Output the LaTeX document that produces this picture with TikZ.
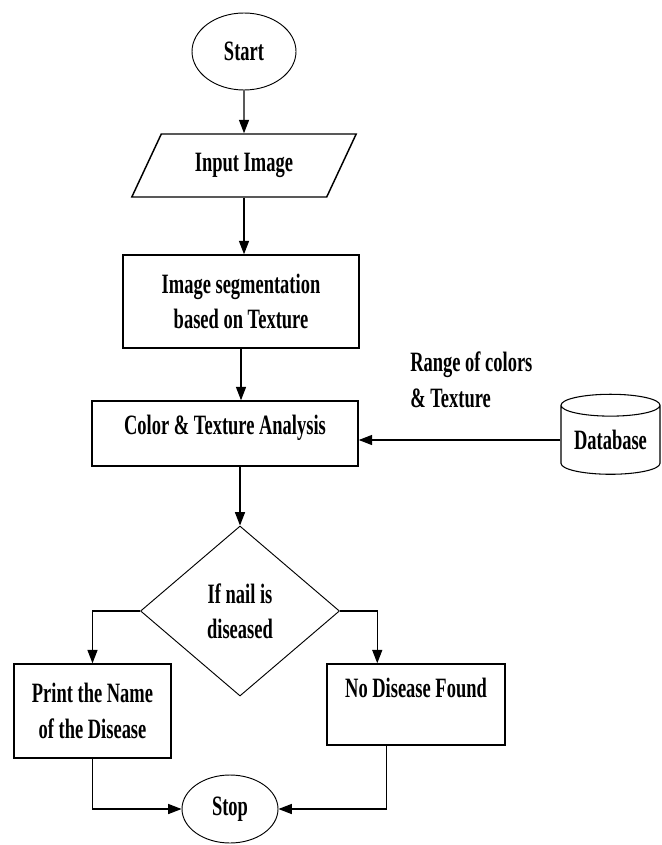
\documentclass[tikz,border=0pt]{standalone}
\usepackage{fontspec}
\setmainfont{Liberation Serif}[FakeStretch=0.66]
\usepackage{tikz}
\usetikzlibrary{shapes.geometric, arrows.meta}
\tikzset{
	base/.style = {
		draw,
		black,
		inner sep=0pt,
		align=center,
		font=\fontsize{21}{26.5}\selectfont\bfseries
	},
	terminal/.style = {
		base,
		ellipse,
		line width=0.7pt
	},
	io/.style = {
		base,
		trapezium,
		trapezium left angle=54.5,
		trapezium right angle=125.5,
		trapezium stretches=true,
		line width=1.1pt
	},
	process/.style = {
		base,
		rectangle,
		line width=1.1pt
	},
	decision/.style = {
		base,
		diamond,
		line width=0.7pt
	},
	store/.style = {
		base,
		cylinder,
		shape border rotate=90,
		shape aspect=0.3,
		line width=0.8pt
	},
	note/.style = {
		align=left,
		inner sep=0pt,
		font=\fontsize{21}{27}\selectfont\bfseries
	}
}
\tikzstyle{arrow} = [->, >={Triangle[length=10pt,width=7.5pt]}, line width=0.9pt]

\begin{document}
\begin{tikzpicture}[x=0.75pt, y=-0.75pt]
		\useasboundingbox (0,0) rectangle (661,845);
		\node[terminal, minimum width=78pt, minimum height=57.75pt] (start) at (244,51.5) {Start};
		\node[io, minimum width=168.75pt, minimum height=47.25pt] (input) at (244,165.5) {Input Image};
		\node[process, minimum width=177pt, minimum height=69.75pt] (seg) at (241,301.5) {Image segmentation\\based on Texture};
		\node[process, minimum width=199.5pt, minimum height=48.75pt, text depth=13pt] (analysis) at (225,433.5) {Color \& Texture Analysis};
		\node[store, minimum width=74.25pt, minimum height=60pt] (db) at (610.5,440) {Database};
		\node[note, anchor=west] (rangelbl) at (410,380) {Range of colors\\\& Texture};
		\node[decision, minimum width=149.25pt, minimum height=127.5pt] (check) at (240,611) {If nail is\\diseased};
		\node[process, minimum width=117.75pt, minimum height=70.5pt] (found) at (92.5,711) {Print the Name\\of the Disease};
		\node[process, minimum width=133.5pt, text height=24.75pt, text depth=36pt] (nodisease) at (416,704.5) {No Disease Found};
		\node[terminal, minimum width=72pt, minimum height=51pt] (stop) at (230,809) {Stop};

		\draw[arrow] (start) -- (input);
		\draw[arrow] (input.south) -- (input.south |- seg.north);
		\draw[arrow] (seg.south) -- (seg.south |- analysis.north);
		\draw[arrow] (db.west) -- (db.west -| analysis.east);
		\draw[arrow] (check.north |- analysis.south) -- (check.north);
		\draw[arrow] (check.west) -| (found.north);
		\draw[arrow] (check.east) -| ([xshift=38.25pt]nodisease.north west);
		\draw[arrow] (found.south) |- (stop.west);
		\draw[arrow] ([xshift=45pt]nodisease.south west) |- (stop.east);
	\end{tikzpicture}
\end{document}
